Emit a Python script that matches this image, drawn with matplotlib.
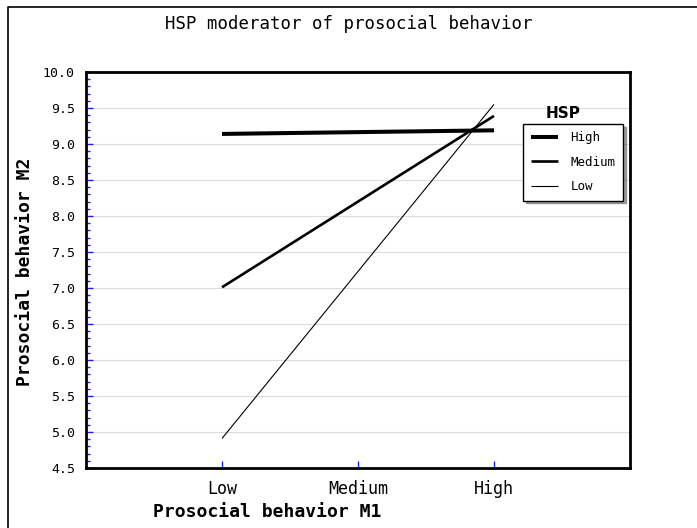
import numpy as np
import matplotlib
matplotlib.use("Agg")
import matplotlib.pyplot as plt
from matplotlib.lines import Line2D
from matplotlib.ticker import MultipleLocator

# Data
m1_levels = ["Low", "Medium", "High"]
hsp_groups = ["High", "Medium", "Low"]
m2_high = [9.14, 9.19]      # HSP high
m2_medium = [7.01, 9.39]    # HSP medium
m2_low = [4.91, 9.55]       # HSP low
line_x = [0, 2]             # Low and High of M1

W, H = 697, 528
plt.rcParams['font.family'] = ['DejaVu Sans Mono']

fig = plt.figure(figsize=(W / 100, H / 100), dpi=100)
ax = fig.add_axes([86 / W, 1 - 468 / H, (630 - 86) / W, (468 - 72) / H])

widths = [2.9, 1.9, 0.8]
series = [m2_high, m2_medium, m2_low]
handles = []
for vals, lw, name in zip(series, widths, hsp_groups):
    h, = ax.plot(line_x, vals, color='black', lw=lw, solid_capstyle='butt', label=name)
    handles.append(h)

ax.set_xlim(-1, 3)
ax.set_ylim(4.5, 10.0)
ax.set_xticks(range(len(m1_levels)))
ax.set_xticklabels(m1_levels, fontsize=12)
ax.yaxis.set_major_locator(MultipleLocator(0.5))
ax.yaxis.set_minor_locator(MultipleLocator(0.1))
ax.yaxis.set_major_formatter(matplotlib.ticker.FormatStrFormatter('%.1f'))
ax.tick_params(axis='y', which='major', direction='in', length=5, width=1,
               color='#2020ff', labelsize=9.5, pad=8)
ax.tick_params(axis='y', which='minor', direction='in', length=3, width=1, color='#2020ff')
ax.tick_params(axis='x', which='major', direction='in', length=5, width=1,
               color='#2020ff', pad=9)
ax.tick_params(right=False, top=False)

for y in np.arange(5.0, 10.0, 0.5):
    ax.axhline(y, color='#dddddd', lw=0.8, zorder=0)

for s in ax.spines.values():
    s.set_linewidth(2)
    s.set_color('black')

# labels
fig.text(349 / W, 1 - 24 / H, "HSP moderator of prosocial behavior",
         ha='center', va='center', fontsize=12.5)
fig.text(153 / W, 1 - 512 / H, "Prosocial behavior M1", ha='left', va='center',
         fontsize=13, fontweight='bold')
fig.text(25 / W, 1 - 272 / H, "Prosocial behavior M2", ha='center', va='center',
         rotation=90, fontsize=13, fontweight='bold')

# legend
fig.text(563 / W, 1 - 113 / H, "HSP", ha='center', va='center', fontsize=11,
         fontweight='bold', family='DejaVu Sans')
leg = ax.legend(handles=handles, loc='upper left',
                bbox_to_anchor=(523 / W, 1 - 124 / H), bbox_transform=fig.transFigure,
                fontsize=9, frameon=True, fancybox=False, shadow=True,
                edgecolor='black', framealpha=1, handlelength=2.2,
                borderaxespad=0, borderpad=0.6, labelspacing=0.9, handletextpad=1.0)
leg.get_frame().set_linewidth(1.0)

# outer frame (left and top edges)
fig.add_artist(Line2D([8 / W, 8 / W, 1], [0, 1 - 7 / H, 1 - 7 / H],
                      transform=fig.transFigure, color='black', lw=1.2))

fig.savefig("out.png", dpi=100)
